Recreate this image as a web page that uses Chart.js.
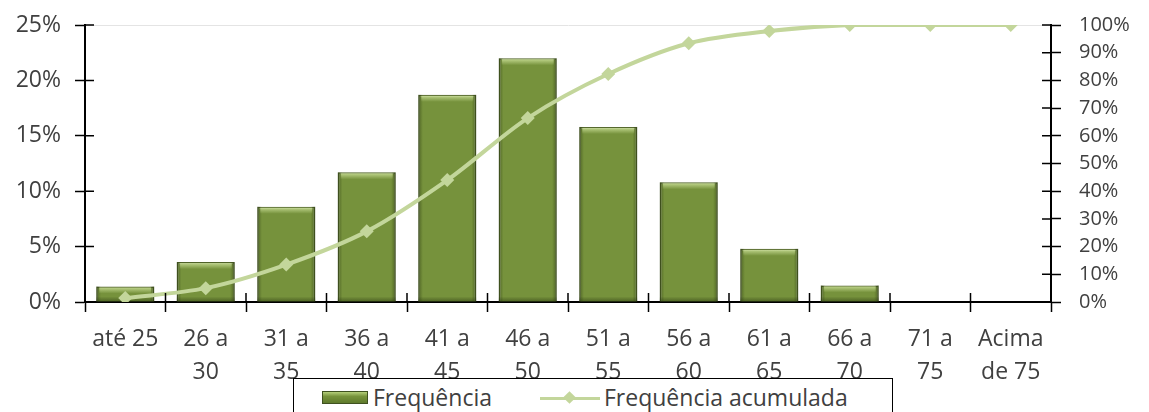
<!DOCTYPE html>
<html>
<head>
<meta charset="utf-8">
<script src="https://cdn.jsdelivr.net/npm/chart.js@4.4.1/dist/chart.umd.min.js"></script>
<style>
  html, body { margin: 0; padding: 0; background: #fff; overflow: hidden; }
  #wrap { position: relative; width: 1149px; height: 412px; overflow: hidden; }
  #legend {
    position: absolute; left: 293px; top: 378px; width: 600px; height: 44px;
    border: 1.5px solid #000; background: #fff; box-sizing: border-box;
    font-family: "Open Sans", sans-serif; font-size: 23px; color: #404040;
  }
  .item { position: absolute; top: 3px; line-height: 30px; white-space: nowrap; }
  .swatch-bar {
    display: inline-block; width: 44px; height: 11px; vertical-align: middle; margin-right: 5px;
    background: linear-gradient(#b5cf7a, #77933c 40%, #5f7a2c);
    border: 1px solid #3f5120; position: relative; top: -2px;
  }
  .swatch-line { display: inline-block; width: 60px; height: 14px; position: relative; vertical-align: middle; margin-right: 4px; top: -2px; }
  .swatch-line:before { content: ""; position: absolute; left: 0; right: 0; top: 6px; height: 3px; background: #c3d69b; }
  .swatch-line:after { content: ""; position: absolute; left: 25px; top: 2px; width: 9px; height: 9px; background: #c3d69b; transform: rotate(45deg); }
</style>
</head>
<body>
<div id="wrap">
  <canvas id="chart" width="1149" height="412"></canvas>
  <div id="legend"></div>
</div>
<script>
// Data
const categories = [
  'até 25', ['26 a', '30'], ['31 a', '35'], ['36 a', '40'], ['41 a', '45'], ['46 a', '50'],
  ['51 a', '55'], ['56 a', '60'], ['61 a', '65'], ['66 a', '70'], ['71 a', '75'], ['Acima', 'de 75']
];
const frequencia = [0.014, 0.036, 0.086, 0.117, 0.187, 0.220, 0.158, 0.108, 0.048, 0.015, 0, 0];
const acumulada = [0.014, 0.050, 0.135, 0.255, 0.440, 0.664, 0.823, 0.934, 0.978, 1.0, 1.0, 1.0];
const seriesNames = ['Frequência', 'Frequência acumulada'];

const TEXT_COLOR = '#404040';
const FONT = 'Open Sans';

// Tick marks that cross the axis line (inner half)
const crossTicks = {
  id: 'crossTicks',
  afterDraw(chart) {
    const ctx = chart.ctx;
    const len = 9;
    ctx.save();
    ctx.strokeStyle = '#000';
    ctx.lineWidth = 1.5;
    const y = chart.scales.y, y1 = chart.scales.y1, x = chart.scales.x;
    ctx.beginPath();
    y.ticks.forEach((t, i) => {
      const p = y.getPixelForTick(i);
      ctx.moveTo(y.right, p); ctx.lineTo(y.right + len, p);
    });
    y1.ticks.forEach((t, i) => {
      const p = y1.getPixelForTick(i);
      ctx.moveTo(y1.left, p); ctx.lineTo(y1.left - len, p);
    });
    for (let i = 0; i <= categories.length; i++) {
      const p = x.left + (x.right - x.left) * i / categories.length;
      ctx.moveTo(p, x.top); ctx.lineTo(p, x.top - len);
    }
    ctx.stroke();
    ctx.restore();
  }
};

// Bevel-like shading on the bars
const barShade = {
  id: 'barShade',
  afterDatasetDraw(chart, args) {
    if (args.index !== 0) return;
    const ctx = chart.ctx;
    const meta = chart.getDatasetMeta(0);
    ctx.save();
    meta.data.forEach(bar => {
      const h = bar.base - bar.y;
      if (h < 1) return;
      const w = bar.width;
      const left = bar.x - w / 2;
      const g = ctx.createLinearGradient(left, 0, left + w, 0);
      g.addColorStop(0, 'rgba(40,55,15,0.5)');
      g.addColorStop(0.08, 'rgba(40,55,15,0.0)');
      g.addColorStop(0.92, 'rgba(40,55,15,0.0)');
      g.addColorStop(1, 'rgba(40,55,15,0.5)');
      ctx.fillStyle = g;
      ctx.fillRect(left, bar.y, w, h);
      const top = Math.min(7, h / 2);
      const g2 = ctx.createLinearGradient(0, bar.y, 0, bar.y + top);
      g2.addColorStop(0, 'rgba(210,230,160,0.9)');
      g2.addColorStop(1, 'rgba(210,230,160,0)');
      ctx.fillStyle = g2;
      ctx.fillRect(left + 3, bar.y + 1, w - 6, top);
      const g3 = ctx.createLinearGradient(0, bar.base - 5, 0, bar.base);
      g3.addColorStop(0, 'rgba(40,55,15,0)');
      g3.addColorStop(1, 'rgba(40,55,15,0.5)');
      ctx.fillStyle = g3;
      ctx.fillRect(left, bar.base - 5, w, 5);
    });
    ctx.restore();
  }
};

const pct = v => Math.round(v * 100) + '%';

const chart = new Chart(document.getElementById('chart').getContext('2d'), {
  type: 'bar',
  data: {
    labels: categories,
    datasets: [
      {
        label: seriesNames[0],
        data: frequencia,
        yAxisID: 'y',
        backgroundColor: '#76923c',
        borderColor: '#4f6228',
        borderWidth: 1.5,
        barPercentage: 0.72,
        categoryPercentage: 1.0,
        order: 2
      },
      {
        type: 'line',
        label: seriesNames[1],
        data: acumulada,
        yAxisID: 'y1',
        borderColor: '#c3d69b',
        backgroundColor: '#c3d69b',
        borderWidth: 4,
        pointStyle: 'rectRot',
        pointRadius: 7,
        pointBorderWidth: 0,
        tension: 0.3,
        order: 1
      }
    ]
  },
  plugins: [barShade, crossTicks],
  options: {
    responsive: false,
    animation: false,
    layout: { padding: { top: 25, left: 0, right: 0, bottom: 0 } },
    plugins: {
      legend: { display: false },
      tooltip: { enabled: false }
    },
    scales: {
      x: {
        grid: { offset: true, drawOnChartArea: false, tickLength: 10, tickColor: '#000', tickWidth: 1.5 },
        border: { color: '#000', width: 2 },
        ticks: {
          color: TEXT_COLOR, font: { family: FONT, size: 23, lineHeight: 1.42 },
          padding: 11, maxRotation: 0, autoSkip: false
        },
        afterFit(scale) { scale.height = 110; scale.paddingLeft = 0; scale.paddingRight = 0; }
      },
      y: {
        position: 'left',
        min: 0,
        max: 0.25,
        ticks: { stepSize: 0.05, callback: pct, color: TEXT_COLOR, font: { family: FONT, size: 23 }, padding: 14 },
        grid: {
          color: c => (c.tick && c.tick.value === 0.25 ? '#e4e4e4' : 'rgba(0,0,0,0)'),
          tickLength: 10, tickColor: '#000', tickWidth: 1.5
        },
        border: { color: '#000', width: 2 },
        afterFit(scale) { scale.width = 85; scale.paddingTop = 0; scale.paddingBottom = 0; }
      },
      y1: {
        position: 'right',
        min: 0,
        max: 1,
        ticks: {
          stepSize: 0.1, callback: pct, color: TEXT_COLOR, font: { family: FONT, size: 20 },
          padding: 18, autoSkip: false
        },
        grid: { drawOnChartArea: false, tickLength: 10, tickColor: '#000', tickWidth: 1.5 },
        border: { color: '#000', width: 2 },
        afterFit(scale) { scale.width = 98; scale.paddingTop = 0; scale.paddingBottom = 0; }
      }
    }
  }
});

// HTML legend (overlaps the label area like the original)
const legend = document.getElementById('legend');
legend.innerHTML =
  '<span class="item" style="left:28px"><span class="swatch-bar"></span>' + seriesNames[0] + '</span>' +
  '<span class="item" style="left:246px"><span class="swatch-line"></span>' + seriesNames[1] + '</span>';
</script>
</body>
</html>
